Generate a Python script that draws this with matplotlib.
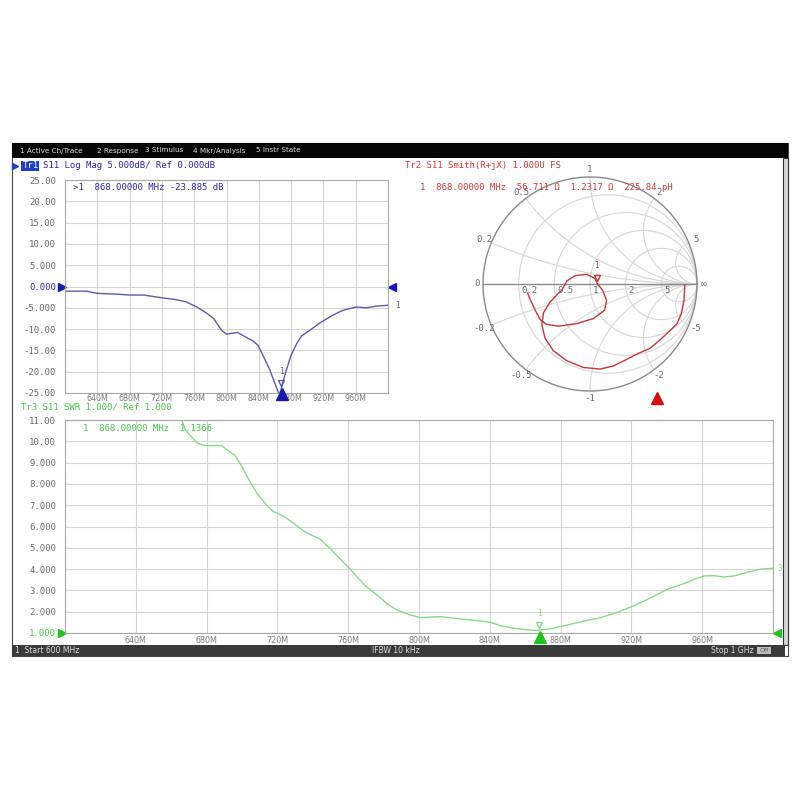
import numpy as np
import matplotlib.pyplot as plt
from matplotlib.patches import Rectangle
from matplotlib.transforms import ScaledTranslation

# Marker / stimulus
marker_freq = 868.0
start_mhz = 600
stop_mhz = 1000

# Tr1: S11 Log Mag (MHz, dB)
logmag_freq = [600, 627, 639, 664, 680, 697, 718, 738, 750, 763, 775, 784, 794, 800, 806, 814,
               823, 833, 839, 845, 854, 860, 863, 865.5, 868, 871, 874, 880, 887, 893, 903, 916,
               932, 944, 961, 973, 986, 1000]
logmag_db = [-1.1, -1.1, -1.6, -1.8, -2.0, -2.0, -2.6, -3.1, -3.6, -4.8, -6.2, -7.5, -10.3, -11.2,
             -11.0, -10.8, -11.8, -12.8, -13.8, -16.1, -19.7, -22.8, -24.3, -25.4, -23.885, -21.6,
             -19.7, -16.1, -13.4, -11.6, -10.3, -8.5, -6.7, -5.6, -4.8, -5.0, -4.6, -4.4]
logmag_ticks = [25, 20, 15, 10, 5, 0, -5, -10, -15, -20, -25]
logmag_labels = ['25.00', '20.00', '15.00', '10.00', '5.000', '0.000', '-5.000', '-10.00',
                 '-15.00', '-20.00', '-25.00']

# Tr2: S11 Smith chart, reflection coefficient (600 MHz -> 1 GHz)
gamma_re = [0.885, 0.879, 0.854, 0.814, 0.745, 0.652, 0.559, 0.450, 0.342, 0.217, 0.093, -0.062,
            -0.217, -0.342, -0.419, -0.450, -0.435, -0.373, -0.304, -0.264, -0.217, -0.140, -0.031,
            0.047, 0.063, 0.118, 0.155, 0.137, 0.031, -0.124, -0.295, -0.410, -0.466, -0.512,
            -0.553, -0.584]
gamma_im = [-0.012, -0.152, -0.276, -0.370, -0.438, -0.525, -0.602, -0.649, -0.705, -0.767, -0.795,
            -0.780, -0.717, -0.624, -0.509, -0.385, -0.270, -0.168, -0.096, -0.059, 0.028, 0.078,
            0.090, 0.053, 0.011, -0.059, -0.152, -0.245, -0.323, -0.370, -0.394, -0.376, -0.332,
            -0.245, -0.158, -0.084]
marker_r_ohm = 56.711
marker_x_ohm = 1.2317
smith_r = [0.2, 0.5, 1, 2, 5]
smith_x = [0.2, 0.5, 1, 2, 5]

# Tr3: S11 SWR
swr_freq = [600, 630, 655, 666, 668, 671.5, 675, 679, 684, 688.5, 693, 696, 700, 704.5, 709, 714,
            717.6, 721, 725, 730, 734.6, 739, 744, 749.6, 755, 760.6, 764.7, 770, 776, 781.6, 787,
            795, 800.8, 812, 823.5, 834.8, 840.5, 846, 853.6, 861, 865, 868, 874.4, 884, 893,
            902.7, 912, 921.5, 931, 940.4, 950, 955.5, 961, 966.8, 972.5, 978, 985.7, 993, 1000]
swr_val = [16, 14, 12, 11.0, 10.53, 10.2, 9.9, 9.8, 9.8, 9.8, 9.5, 9.35, 8.8, 8.1, 7.5, 7.0, 6.7,
           6.58, 6.4, 6.1, 5.8, 5.6, 5.42, 4.98, 4.52, 4.05, 3.66, 3.19, 2.8, 2.4, 2.1, 1.85, 1.72,
           1.77, 1.66, 1.56, 1.50, 1.34, 1.22, 1.15, 1.12, 1.1366, 1.2, 1.38, 1.56, 1.72, 1.97,
           2.28, 2.66, 3.06, 3.33, 3.52, 3.68, 3.69, 3.63, 3.68, 3.85, 4.0, 4.04]
swr_ticks = [11, 10, 9, 8, 7, 6, 5, 4, 3, 2, 1]
swr_labels = ['11.00', '10.00', '9.000', '8.000', '7.000', '6.000', '5.000', '4.000', '3.000',
              '2.000', '1.000']

freq_ticks = [640, 680, 720, 760, 800, 840, 880, 920, 960]
freq_labels = ['640M', '680M', '720M', '760M', '800M', '840M', '880M', '920M', '960M']

menu_items = ['1 Active Ch/Trace', '2 Response', '3 Stimulus', '4 Mkr/Analysis', '5 Instr State']

# colours
blue_txt = '#2a2aa8'
blue_trace = '#5c5ca6'
red_txt = '#d03a3a'
red_trace = '#c03838'
green_txt = '#4cc44c'
green_trace = '#8ad88a'
grid_c = '#d6d6d6'
tick_c = '#6a6a6a'
mono = 'DejaVu Sans Mono'
sans = 'DejaVu Sans'
fs = 6.5

fig = plt.figure(figsize=(8, 8), dpi=100)
fig.patch.set_facecolor('white')


def box(x0, y0, x1, y1):
    # pixel box (top-left origin) -> figure fraction
    return [x0 / 800, 1 - y1 / 800, (x1 - x0) / 800, (y1 - y0) / 800]


def shift(ax, dx, dy):
    # offset in pixels
    return ax.transData + ScaledTranslation(dx / 100, dy / 100, fig.dpi_scale_trans)


def ftext(x, y, s, **kw):
    fig.text(x / 800, 1 - y / 800, s, va='center', **kw)


# background / window chrome in pixel coordinates
bg = fig.add_axes([0, 0, 1, 1])
bg.set_xlim(0, 800)
bg.set_ylim(800, 0)
bg.axis('off')
bg.set_zorder(-1)
bg.add_patch(Rectangle((12, 143), 776, 513, facecolor='white', edgecolor='#444444', lw=0.8))
bg.add_patch(Rectangle((12, 143), 776, 15, facecolor='#050505', edgecolor='none'))
bg.add_patch(Rectangle((12, 645), 773, 11, facecolor='#3a3a3a', edgecolor='none'))
bg.add_patch(Rectangle((783, 158), 5, 487, facecolor='#d4d4d4', edgecolor='#333333', lw=0.8))
bg.add_patch(Rectangle((757, 647), 14, 7, facecolor='#bdbdbd', edgecolor='none'))
bg.add_patch(Rectangle((21, 161), 18, 10, facecolor='#2040c0', edgecolor='none'))
bg.plot([15], [166], marker='>', color='#2040c0', markersize=4)
# stimulus position marker of the Smith panel
stim_x = 400 + (marker_freq - start_mhz) / (stop_mhz - start_mhz) * 383
bg.plot([stim_x], [398], marker='^', color='#d01010', markersize=8)

# menu bar and status bar
menu_x = [20, 97, 145, 193, 256]
for mx, item in zip(menu_x, menu_items):
    ftext(mx, 150.5, item, color='#dcdcdc', fontsize=5.2, family=sans)
ftext(15, 650.5, '1  Start 600 MHz', color='#e0e0e0', fontsize=5.5, family=sans)
ftext(372, 650.5, 'IFBW 10 kHz', color='#e0e0e0', fontsize=5.5, family=sans)
ftext(754, 650.5, 'Stop 1 GHz', color='#e0e0e0', fontsize=5.5, family=sans, ha='right')
ftext(764, 650.5, 'Off', color='#555555', fontsize=4.5, family=sans, ha='center')

# ---- Tr1 log mag ----
ax1 = fig.add_axes(box(65, 180, 388, 393))
ax1.plot(logmag_freq, logmag_db, color=blue_trace, lw=1.0)
ax1.set_xlim(start_mhz, stop_mhz)
ax1.set_ylim(-25, 25)
ax1.set_xticks(freq_ticks, freq_labels)
ax1.set_yticks(logmag_ticks, logmag_labels)
ax1.grid(True, color=grid_c, lw=0.8)
ax1.tick_params(length=0, labelsize=fs, colors=tick_c, pad=6.5)
ax1.tick_params(axis='x', pad=1.0, labelsize=5.8)
for lab in ax1.get_yticklabels():
    lab.set_family(mono)
    if lab.get_text() == '0.000':
        lab.set_color(blue_txt)
for lab in ax1.get_xticklabels():
    lab.set_color('#7a7a7a')
for sp in ax1.spines.values():
    sp.set_color('#a8a8a8')
    sp.set_linewidth(0.8)
ax1.plot([start_mhz], [0], marker='>', color='#1a1aaa', markersize=6, clip_on=False,
         transform=shift(ax1, -3.5, 0))
ax1.plot([stop_mhz], [0], marker='<', color='#1a1aaa', markersize=6, clip_on=False,
         transform=shift(ax1, 3.5, 0))
ax1.plot([marker_freq], [-25], marker='^', color='#1a1aaa', markersize=8, clip_on=False,
         transform=shift(ax1, 1, -1), zorder=5)
ax1.plot([marker_freq], [logmag_db[logmag_freq.index(marker_freq)]], marker='v',
         markerfacecolor='none', markeredgecolor=blue_trace, markersize=5, clip_on=False,
         transform=shift(ax1, 0, 5))
ax1.annotate('1', (marker_freq, logmag_db[logmag_freq.index(marker_freq)]), xytext=(0, 9),
             textcoords='offset points', ha='center', va='bottom', color=blue_trace,
             fontsize=5.5, family=mono)
ax1.annotate('1', (stop_mhz, logmag_db[-1]), xytext=(5, 0), textcoords='offset points',
             ha='left', va='center', color=blue_trace, fontsize=5.5, family=mono,
             annotation_clip=False)
ax1.text(0.025, 0.965, '>1  868.00000 MHz -23.885 dB', transform=ax1.transAxes,
         color=blue_txt, fontsize=fs, family=mono, va='center')

ftext(22.5, 166, 'Tr1', color='white', fontsize=fs, family=mono)
ftext(43, 166, 'S11 Log Mag 5.000dB/ Ref 0.000dB', color=blue_txt, fontsize=fs, family=mono)

# ---- Tr2 Smith chart ----
scale = 130 / 107
ax2 = fig.add_axes(box(460, 154, 720, 414))
ax2.set_xlim(-scale, scale)
ax2.set_ylim(-scale, scale)
ax2.set_aspect('equal')
ax2.axis('off')
ax2.patch.set_alpha(0)

t = np.linspace(0, 2 * np.pi, 400)
sweep = np.concatenate([-np.geomspace(1e3, 1e-3, 300), np.geomspace(1e-3, 1e3, 300)])
for r in smith_r:
    g = (r + 1j * sweep - 1) / (r + 1j * sweep + 1)
    ax2.plot(g.real, g.imag, color=grid_c, lw=0.8)
rs = np.geomspace(1e-4, 1e3, 400)
for x in smith_x:
    for sx in (x, -x):
        g = (rs + 1j * sx - 1) / (rs + 1j * sx + 1)
        ax2.plot(g.real, g.imag, color=grid_c, lw=0.8)
ax2.plot(np.cos(t), np.sin(t), color='#8a8a8a', lw=1.0)
ax2.plot([-1, 1], [0, 0], color='#8a8a8a', lw=1.0)

for r in smith_r:
    g0 = (r - 1) / (r + 1)
    ax2.annotate(f'{r:g}', (g0, 0), xytext=(2, -5), textcoords='offset points', ha='left',
                 va='center', color=tick_c, fontsize=fs, family=mono)
for x in smith_x:
    for sx in (x, -x):
        g = (1j * sx - 1) / (1j * sx + 1)
        ax2.text(g.real * 1.07, g.imag * 1.07, f'{sx:g}', ha='center', va='center',
                 color=tick_c, fontsize=fs, family=mono)
ax2.text(-1.03, 0, '0', ha='right', va='center', color=tick_c, fontsize=fs, family=mono)
ax2.text(1.03, 0, '\u221e', ha='left', va='center', color=tick_c, fontsize=fs, family=sans)

ax2.plot(gamma_re, gamma_im, color=red_trace, lw=1.0)
z_m = (marker_r_ohm + 1j * marker_x_ohm) / 50
g_m = (z_m - 1) / (z_m + 1)
ax2.plot([g_m.real], [g_m.imag], marker='v', markerfacecolor='none', markeredgecolor=red_trace,
         markersize=5, transform=shift(ax2, 0, 5))
ax2.annotate('1', (g_m.real, g_m.imag), xytext=(0, 9), textcoords='offset points',
             ha='center', va='bottom', color=red_trace, fontsize=5.5, family=mono)

ftext(405, 166, 'Tr2 S11 Smith(R+jX) 1.000U FS', color=red_txt, fontsize=fs, family=mono)
ftext(420, 187.5, '1  868.00000 MHz  56.711 \u03a9  1.2317 \u03a9  225.84 pH', color=red_txt,
      fontsize=fs, family=mono)

# ---- Tr3 SWR ----
ax3 = fig.add_axes(box(65, 420, 773, 633))
ax3.plot(swr_freq, swr_val, color=green_trace, lw=1.0)
ax3.set_xlim(start_mhz, stop_mhz)
ax3.set_ylim(1, 11)
ax3.set_xticks(freq_ticks, freq_labels)
ax3.set_yticks(swr_ticks, swr_labels)
ax3.grid(True, color=grid_c, lw=0.8)
ax3.tick_params(length=0, labelsize=fs, colors=tick_c, pad=6.5)
ax3.tick_params(axis='x', pad=2, labelsize=5.8)
for lab in ax3.get_yticklabels():
    lab.set_family(mono)
    if lab.get_text() == '1.000':
        lab.set_color(green_txt)
for lab in ax3.get_xticklabels():
    lab.set_color('#7a7a7a')
for sp in ax3.spines.values():
    sp.set_color('#a8a8a8')
    sp.set_linewidth(0.8)
ax3.plot([start_mhz], [1], marker='>', color='#22c022', markersize=6, clip_on=False,
         transform=shift(ax3, -3.5, 0))
ax3.plot([stop_mhz], [1], marker='<', color='#22c022', markersize=6, clip_on=False,
         transform=shift(ax3, 3.5, 0))
ax3.plot([marker_freq], [1], marker='^', color='#22c022', markersize=8, clip_on=False,
         transform=shift(ax3, 1, -4), zorder=5)
m_swr = swr_val[swr_freq.index(marker_freq)]
ax3.plot([marker_freq], [m_swr], marker='v', markerfacecolor='none', markeredgecolor=green_trace,
         markersize=5, clip_on=False, transform=shift(ax3, 0, 5))
ax3.annotate('1', (marker_freq, m_swr), xytext=(0, 9), textcoords='offset points',
             ha='center', va='bottom', color=green_trace, fontsize=5.5, family=mono)
ax3.annotate('3', (stop_mhz, swr_val[-1]), xytext=(3, 0), textcoords='offset points',
             ha='left', va='center', color=green_trace, fontsize=5.5, family=mono,
             annotation_clip=False)
ax3.text(0.025, 0.962, '1  868.00000 MHz  1.1366', transform=ax3.transAxes,
         color=green_txt, fontsize=fs, family=mono, va='center')

ftext(21, 407, 'Tr3 S11 SWR 1.000/ Ref 1.000', color=green_txt, fontsize=fs, family=mono)

fig.savefig('out.png', dpi=100)
